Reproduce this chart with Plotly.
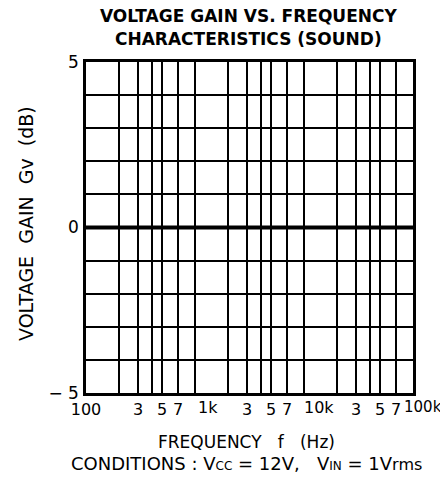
import math
import plotly.graph_objects as go

NB = "\u00a0"

# Data
freq_hz = [100, 1000, 10000, 100000]
gain_db = [0, 0, 0, 0]

# Axis grid / tick definitions
x_tickvals = [100, 200, 300, 400, 500, 700,
              1000, 2000, 3000, 4000, 5000, 7000,
              10000, 20000, 30000, 40000, 50000, 70000,
              100000]
x_ticktext = ["100", "", "3", "", "5", "7",
              "", "", "3", "", "5", "7",
              "", "", "3", "", "5", "7",
              ""]
# decade labels drawn left-aligned at their grid line (as in the original)
decade_vals = [1000, 10000, 100000]
decade_text = ["1k", "10k", "100k"]
decade_shift = [1, -2, -11]
decade_size = [16, 16, 15]

y_tickvals = [-5, -4, -3, -2, -1, 0, 1, 2, 3, 4, 5]
y_ticktext = ["\u2212" + NB + "5", "", "", "", "", "0", "", "", "", "", "5"]

title_lines = ["VOLTAGE GAIN VS. FREQUENCY", "CHARACTERISTICS (SOUND)"]
x_title = "FREQUENCY" + NB * 3 + "f" + NB * 3 + "(Hz)"
y_title = "VOLTAGE" + NB * 2 + "GAIN" + NB * 2 + "Gv" + NB * 2 + "(dB)"
small = "<span style='font-size:12px'>{}</span>"
cond_text = ("CONDITIONS : V" + small.format("CC") + " = 12V," + NB * 3 +
             "V" + small.format("IN") + " = 1V" + "<span style='font-size:16px'>rms</span>")

FONT = "DejaVu Sans"

# page offset (body margin) so targets are given in window pixels
O = 8
W, H = 440, 474
PL, PR, PT, PB = 86, 413, 62, 393  # plot area in window pixels
L, R, T, B = PL - O, W - (PR - O), PT - O, H - (PB - O)
ph = H - T - B
pw = W - L - R


def py(pix):
    return (PB - pix) / ph


def px(pix):
    return (pix - PL) / pw


fig = go.Figure()
fig.add_trace(go.Scatter(
    x=freq_hz, y=gain_db, mode="lines",
    line=dict(color="black", width=4),
    hoverinfo="skip", showlegend=False,
))

fig.update_layout(
    width=W, height=H,
    margin=dict(l=L, r=R, t=T, b=B, autoexpand=False),
    paper_bgcolor="white", plot_bgcolor="white",
    font=dict(family=FONT, size=17, color="black"),
    showlegend=False,
)

fig.update_xaxes(
    type="log", range=[2, 5],
    tickmode="array", tickvals=x_tickvals, ticktext=x_ticktext,
    tickangle=0, automargin=False, ticklabeloverflow="allow",
    showgrid=True, gridcolor="black", gridwidth=1.6,
    showline=True, linecolor="black", linewidth=2.5, mirror=True,
    ticks="", ticklabelstandoff=0,
    tickfont=dict(family=FONT, size=16, color="black"),
    zeroline=False,
)
fig.update_yaxes(
    range=[-5, 5], automargin=False,
    tickmode="array", tickvals=y_tickvals, ticktext=y_ticktext,
    showgrid=True, gridcolor="black", gridwidth=1.8,
    showline=True, linecolor="black", linewidth=2.5, mirror=True,
    ticks="", ticklabelstandoff=1,
    tickfont=dict(family=FONT, size=17, color="black"),
    zeroline=False,
)

for v, t, s, fs in zip(decade_vals, decade_text, decade_shift, decade_size):
    fig.add_annotation(
        text=t, xref="x", yref="paper",
        x=math.log10(v), y=py(407), xanchor="left", yanchor="middle",
        xshift=s, showarrow=False,
        font=dict(family=FONT, size=fs, color="black"),
    )

for txt, ypix in zip(title_lines, [16, 39]):
    fig.add_annotation(
        text="<b>" + txt + "</b>", xref="paper", yref="paper",
        x=px(248), y=py(ypix), xanchor="center", yanchor="middle",
        showarrow=False, font=dict(family=FONT, size=17, color="black"),
    )

fig.add_annotation(
    text=x_title, xref="paper", yref="paper",
    x=px(246), y=py(442), xanchor="center", yanchor="middle",
    showarrow=False, font=dict(family=FONT, size=17, color="black"),
)
fig.add_annotation(
    text=cond_text, xref="paper", yref="paper",
    x=px(246), y=py(463), xanchor="center", yanchor="middle",
    showarrow=False, font=dict(family=FONT, size=18, color="black"),
)
fig.add_annotation(
    text=y_title, xref="paper", yref="paper",
    x=px(26), y=py(224), xanchor="center", yanchor="middle",
    textangle=-90,
    showarrow=False, font=dict(family=FONT, size=19, color="black"),
)

fig.write_html("out.html")
